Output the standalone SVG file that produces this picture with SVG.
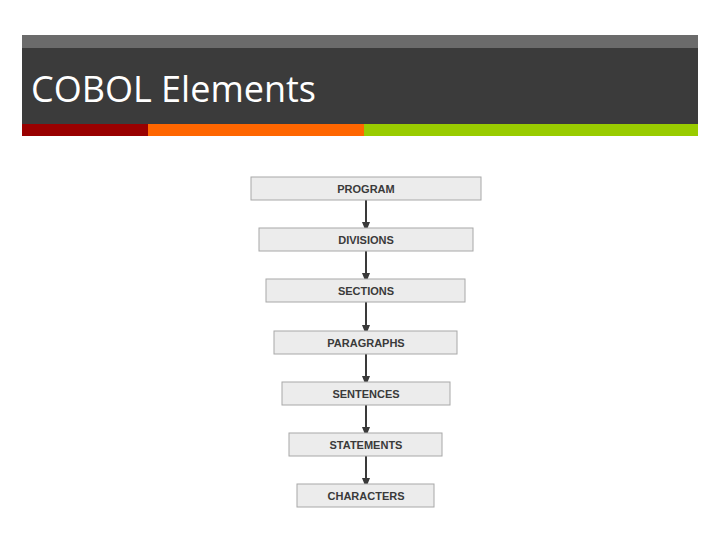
<svg xmlns="http://www.w3.org/2000/svg" width="720" height="540" viewBox="0 0 720 540">
<style>
.b{fill:#ececec;stroke:#a8a8a8;stroke-width:1}
.t{font-family:"Liberation Sans",Arial,sans-serif;font-size:11px;font-weight:bold;fill:#3a3a3a;text-anchor:middle;dominant-baseline:central}
.c{stroke:#3a3a3a;stroke-width:2;fill:none;marker-end:url(#a)}
</style>
<defs><marker id="a" markerWidth="10" markerHeight="10" refX="5" refY="4" viewBox="0 0 10 8" orient="auto" markerUnits="userSpaceOnUse"><path d="M0,0 L10,4 L0,8z" fill="#3a3a3a"/></marker></defs>
<rect width="720" height="540" fill="#fff"/>
<rect x="22" y="35" width="676" height="13" fill="#6b6b6b"/>
<rect x="22" y="48" width="676" height="76" fill="#3b3b3b"/>
<rect x="22" y="124" width="126" height="12" fill="#990000"/>
<rect x="148" y="124" width="216" height="12" fill="#ff6600"/>
<rect x="364" y="124" width="334" height="12" fill="#99cc00"/>
<text x="31" y="102" font-family="Open Sans,'Liberation Sans',sans-serif" font-size="36" fill="#fff">COBOL Elements</text>
<g id="connectors">
<line class="c" x1="366" y1="200" x2="366" y2="227"/>
<line class="c" x1="366" y1="251" x2="366" y2="278"/>
<line class="c" x1="366" y1="302" x2="366" y2="330"/>
<line class="c" x1="366" y1="354" x2="366" y2="381"/>
<line class="c" x1="366" y1="405" x2="366" y2="432"/>
<line class="c" x1="366" y1="456" x2="366" y2="483"/>
</g>
<g id="program"><rect class="b" x="251" y="177" width="230" height="23"/><text class="t" x="366" y="188.5">PROGRAM</text></g>
<g id="divisions"><rect class="b" x="259" y="228" width="214" height="23"/><text class="t" x="366" y="239.5">DIVISIONS</text></g>
<g id="sections"><rect class="b" x="266" y="279" width="199" height="23"/><text class="t" x="366" y="290.5">SECTIONS</text></g>
<g id="paragraphs"><rect class="b" x="274" y="331" width="183" height="23"/><text class="t" x="366" y="342.5">PARAGRAPHS</text></g>
<g id="sentences"><rect class="b" x="282" y="382" width="168" height="23"/><text class="t" x="366" y="393.5">SENTENCES</text></g>
<g id="statements"><rect class="b" x="289" y="433" width="153" height="23"/><text class="t" x="366" y="444.5">STATEMENTS</text></g>
<g id="characters"><rect class="b" x="297" y="484" width="137" height="23"/><text class="t" x="366" y="495.5">CHARACTERS</text></g>
</svg>
